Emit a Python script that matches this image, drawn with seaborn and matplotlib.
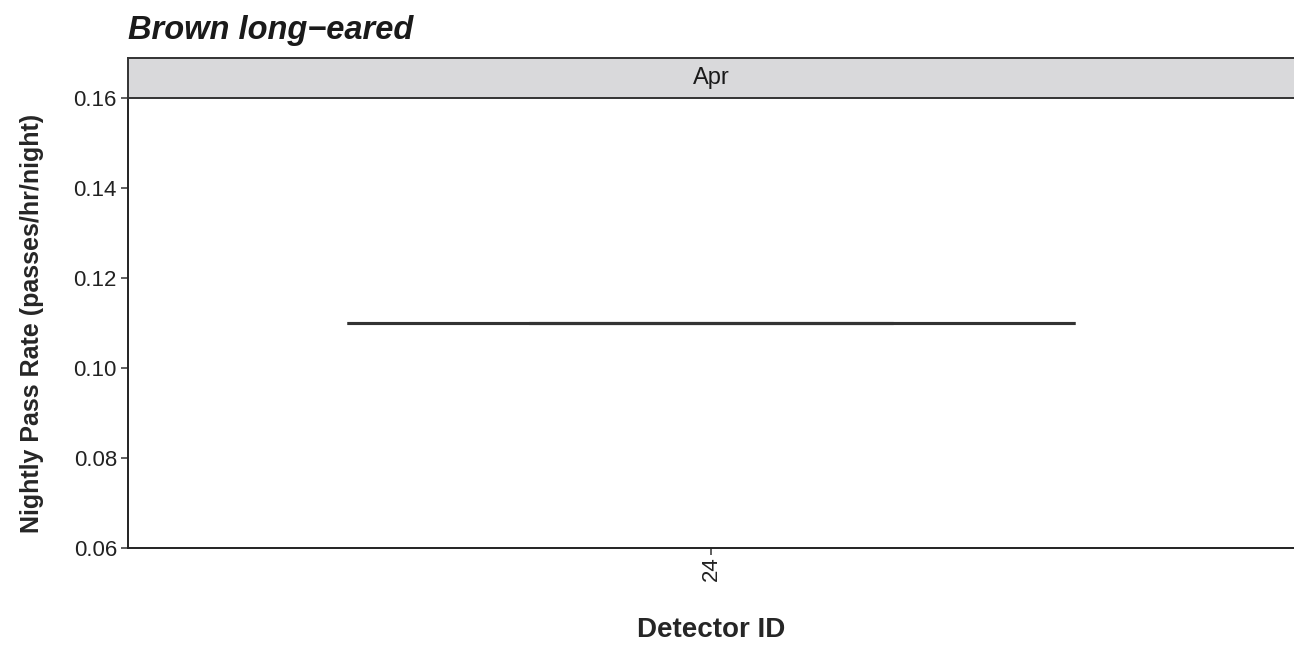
import matplotlib
matplotlib.use("Agg")
import matplotlib.pyplot as plt
import seaborn as sns
import pandas as pd

detectors = ["24"]
rates = [0.11]
month = "Apr"
title = "Brown long\u2212eared"

df = pd.DataFrame({"Detector ID": detectors, "rate": rates})

sns.set_theme(style="ticks")
plt.rcParams["font.family"] = ["Liberation Sans", "DejaVu Sans"]

fig = plt.figure(figsize=(12.94, 6.5), dpi=100)
ax = fig.add_axes([128/1294, 1-548/650, 1-128/1294, (548-98)/650])

sns.boxplot(data=df, x="Detector ID", y="rate", ax=ax, width=0.75,
            color="white", linecolor="#333333", linewidth=2.2, fliersize=0)

ax.set_xlim(-0.6, 0.6)
ax.set_ylim(0.06, 0.16)
ax.set_yticks([0.06, 0.08, 0.10, 0.12, 0.14, 0.16])
ax.set_yticklabels(["0.06", "0.08", "0.10", "0.12", "0.14", "0.16"])
ax.tick_params(axis="both", labelsize=16, colors="#333333", labelcolor="#222222",
               length=5, width=1.1, pad=3)
ax.tick_params(axis="x", labelrotation=90, pad=1)
for s in ["top", "right"]:
    ax.spines[s].set_visible(False)
for s in ["left", "bottom"]:
    ax.spines[s].set_color("#222222")
    ax.spines[s].set_linewidth(1.4)

ax.set_xlabel("Detector ID", fontsize=20, fontweight="bold", labelpad=26)
ax.set_ylabel("Nightly Pass Rate (passes/hr/night)", fontsize=18, fontweight="bold", labelpad=21)

# facet strip
sax = fig.add_axes([128/1294, 1-98/650, 1-128/1294, 40/650])
sax.set_facecolor("#d9d9db")
sax.set_xticks([]); sax.set_yticks([])
sax.spines["right"].set_visible(False)
for s in ["top", "bottom", "left"]:
    sax.spines[s].set_color("#333333")
    sax.spines[s].set_linewidth(1.4)
sax.text(0.5, 0.5, month, ha="center", va="center", fontsize=17, color="#1a1a1a",
         transform=sax.transAxes)

fig.text(128/1294, 1-31/650, title, fontsize=23.5, fontweight="bold",
         fontstyle="italic", ha="left", va="center", color="#1a1a1a")

fig.savefig("out.png", dpi=100)
